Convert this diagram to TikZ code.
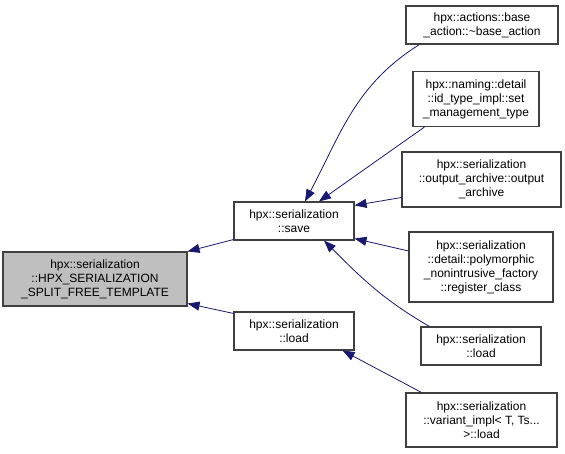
\documentclass[tikz,border=0pt]{standalone}
\usepackage{fontspec}
\setmainfont{Liberation Sans}
\usepackage{xcolor}
\usetikzlibrary{arrows.meta,positioning}
\definecolor{edgeblue}{HTML}{191970}
\definecolor{boxline}{HTML}{404040}
\definecolor{rootfill}{HTML}{BFBFBF}
\tikzset{
  fnbox/.style={draw=boxline,fill=white,line width=1.1pt,
                inner sep=0pt,align=center,
                font=\fontsize{12}{14}\selectfont},
  rootbox/.style={fnbox,fill=rootfill},
  callarr/.style={-{Triangle[length=12pt,width=9pt]},line width=0.8pt,color=edgeblue}
}

\begin{document}
\begin{tikzpicture}[x=1pt,y=1pt]
      \useasboundingbox (0,0) rectangle (565,454);

      \node[rootbox,minimum width=184,minimum height=54] (root) at (95,175)
        {hpx::serialization\\::HPX\_SERIALIZATION\\\_SPLIT\_FREE\_TEMPLATE};
      \node[fnbox,minimum width=120,minimum height=38] (save) at (294,233)
        {hpx::serialization\\::save};
      \node[fnbox,minimum width=120,minimum height=38] (load) at (294,123)
        {hpx::serialization\\::load};

      \node[fnbox,minimum width=152,minimum height=38] (baseaction) at (482,429)
        {hpx::actions::base\\\_action::\textasciitilde base\_action};
      \node[fnbox,minimum width=126,minimum height=55] (setmgmt) at (476,355)
        {hpx::naming::detail\\::id\_type\_impl::set\\\_management\_type};
      \node[fnbox,minimum width=159,minimum height=55] (outarchive) at (481.5,274.5)
        {hpx::serialization\\::output\_archive::output\\\_archive};
      \node[fnbox,minimum width=144,minimum height=70] (regclass) at (481,187)
        {hpx::serialization\\::detail::polymorphic\\\_nonintrusive\_factory\\::register\_class};
      \node[fnbox,minimum width=120,minimum height=38] (loadright) at (481,108)
        {hpx::serialization\\::load};
      \node[fnbox,minimum width=151,minimum height=54] (variantload) at (481.5,34)
        {hpx::serialization\\::variant\_impl< T, Ts...\\>::load};

      \draw[callarr] ([yshift=1pt]save.south west) -- (root.north east);
      \draw[callarr] ([yshift=-2pt]load.north west) -- ([yshift=3pt]root.south east);

      \draw[callarr] ([xshift=14pt]baseaction.south west) to[out=212,in=62] ([xshift=11pt]save.north);
      \draw[callarr] ([xshift=12pt]setmgmt.south west) -- ([xshift=25pt]save.north);
      \draw[callarr] ([yshift=-18pt]outarchive.west) -- ([yshift=-4pt]save.north east);
      \draw[callarr] ([yshift=16pt]regclass.west) -- ([yshift=2pt]save.south east);
      \draw[callarr] ([xshift=9pt]loadright.north west) to[out=150,in=-45] ([xshift=30pt]save.south);
      \draw[callarr] ([xshift=16pt]variantload.north west) -- ([xshift=-12pt]load.south east);
    \end{tikzpicture}
\end{document}
